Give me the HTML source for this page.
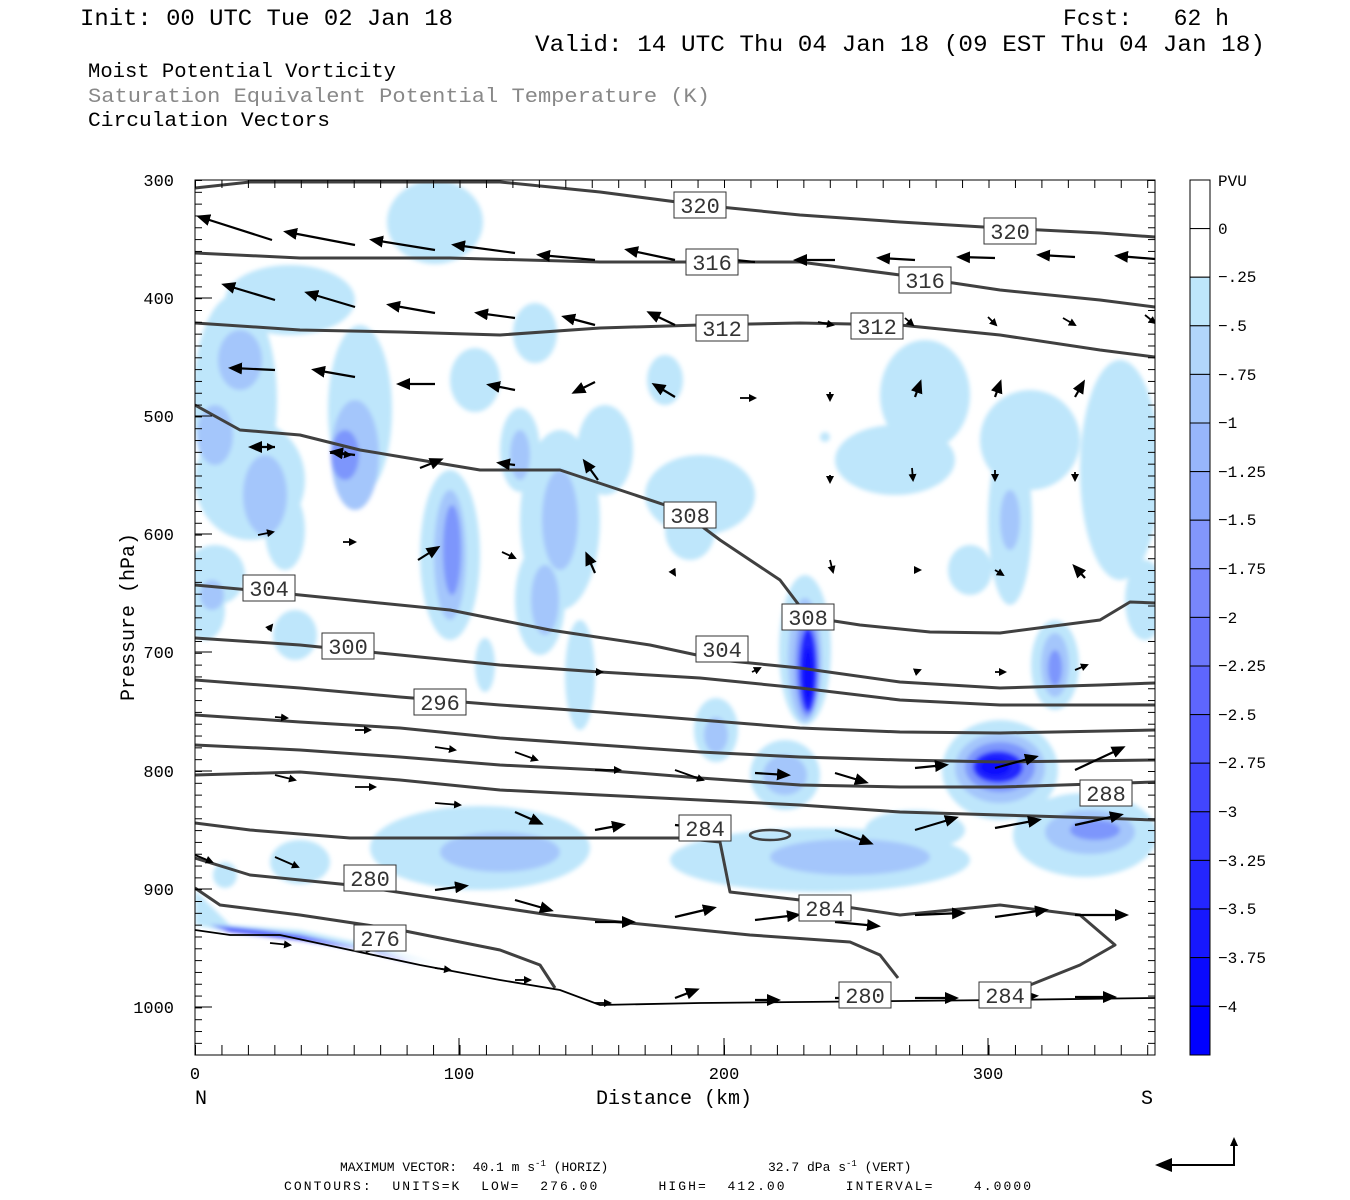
<!DOCTYPE html>
<html><head><meta charset="utf-8"><style>
html,body{margin:0;padding:0;background:#fff;}
svg{display:block}
text{font-family:"Liberation Mono",monospace;fill:#000;white-space:pre}
</style></head><body>
<svg width="1350" height="1200" viewBox="0 0 1350 1200" xmlns="http://www.w3.org/2000/svg" xml:space="preserve">
<defs>
<pattern id="tl" x="195" y="180" width="10" height="11.82" patternUnits="userSpaceOnUse"><line x1="0" y1="0.5" x2="7" y2="0.5" stroke="#000" stroke-width="1"/></pattern>
<pattern id="tr" x="1147" y="180" width="10" height="11.82" patternUnits="userSpaceOnUse"><line x1="1" y1="0.5" x2="8" y2="0.5" stroke="#000" stroke-width="1"/></pattern>
<pattern id="tb" x="195" y="1045" width="26.45" height="12" patternUnits="userSpaceOnUse"><line x1="0.5" y1="0" x2="0.5" y2="10" stroke="#000" stroke-width="1"/></pattern>
<pattern id="tt" x="195" y="180" width="26.45" height="12" patternUnits="userSpaceOnUse"><line x1="0.5" y1="0" x2="0.5" y2="8" stroke="#000" stroke-width="1"/></pattern>
<marker id="ah" markerWidth="8" markerHeight="8" refX="6" refY="4" orient="auto" markerUnits="userSpaceOnUse" viewBox="0 0 8 8"><path d="M0,0 L8,4 L0,8 z" fill="#000"/></marker>
<marker id="ab" markerWidth="14" markerHeight="12" refX="10" refY="6" orient="auto" markerUnits="userSpaceOnUse" viewBox="0 0 14 12"><path d="M0,0 L14,6 L0,12 z" fill="#000"/></marker>
<filter id="bl"><feGaussianBlur stdDeviation="2"/></filter>
<clipPath id="pc"><rect x="195" y="180" width="960" height="875"/></clipPath>
</defs>

<!-- Titles -->
<text x="80" y="25" font-size="23" textLength="373" lengthAdjust="spacingAndGlyphs">Init: 00 UTC Tue 02 Jan 18</text>
<text x="1063" y="25" font-size="23" textLength="166" lengthAdjust="spacingAndGlyphs">Fcst:   62 h</text>
<text x="535" y="51" font-size="23" textLength="730" lengthAdjust="spacingAndGlyphs">Valid: 14 UTC Thu 04 Jan 18 (09 EST Thu 04 Jan 18)</text>
<text x="88" y="77" font-size="20.5" textLength="308" lengthAdjust="spacingAndGlyphs">Moist Potential Vorticity</text>
<text x="88" y="102" font-size="20.5" style="fill:#888" textLength="622" lengthAdjust="spacingAndGlyphs">Saturation Equivalent Potential Temperature (K)</text>
<text x="88" y="126" font-size="20.5" textLength="242" lengthAdjust="spacingAndGlyphs">Circulation Vectors</text>

<!-- Shading -->
<g clip-path="url(#pc)" filter="url(#bl)">
<g fill="#bee6fb">
<ellipse cx="435" cy="222" rx="48" ry="42"/>
<ellipse cx="290" cy="300" rx="65" ry="35"/>
<ellipse cx="535" cy="333" rx="22" ry="30"/>
<ellipse cx="235" cy="400" rx="42" ry="105"/>
<ellipse cx="360" cy="410" rx="32" ry="85"/>
<ellipse cx="250" cy="480" rx="55" ry="60"/>
<ellipse cx="285" cy="530" rx="20" ry="40"/>
<ellipse cx="215" cy="575" rx="30" ry="30"/>
<ellipse cx="475" cy="380" rx="25" ry="32"/>
<ellipse cx="520" cy="450" rx="20" ry="42"/>
<ellipse cx="450" cy="555" rx="30" ry="85"/>
<ellipse cx="560" cy="520" rx="40" ry="90"/>
<ellipse cx="540" cy="600" rx="25" ry="55"/>
<ellipse cx="605" cy="450" rx="28" ry="45"/>
<ellipse cx="700" cy="495" rx="55" ry="40"/>
<ellipse cx="690" cy="530" rx="25" ry="30"/>
<ellipse cx="665" cy="380" rx="18" ry="25"/>
<ellipse cx="580" cy="675" rx="15" ry="55"/>
<ellipse cx="485" cy="665" rx="10" ry="27"/>
<ellipse cx="295" cy="635" rx="22" ry="25"/>
<ellipse cx="805" cy="650" rx="26" ry="75"/>
<ellipse cx="925" cy="395" rx="45" ry="55"/>
<ellipse cx="895" cy="460" rx="60" ry="35"/>
<ellipse cx="1030" cy="440" rx="50" ry="50"/>
<ellipse cx="1010" cy="520" rx="22" ry="85"/>
<ellipse cx="1120" cy="470" rx="40" ry="110"/>
<ellipse cx="1145" cy="600" rx="20" ry="40"/>
<ellipse cx="970" cy="570" rx="22" ry="25"/>
<ellipse cx="1055" cy="665" rx="24" ry="45"/>
<ellipse cx="716" cy="730" rx="22" ry="32"/>
<ellipse cx="785" cy="775" rx="35" ry="35"/>
<ellipse cx="1000" cy="770" rx="58" ry="50"/>
<ellipse cx="1085" cy="835" rx="72" ry="42"/>
<ellipse cx="480" cy="848" rx="110" ry="42"/>
<ellipse cx="300" cy="862" rx="30" ry="22"/>
<ellipse cx="225" cy="875" rx="12" ry="13"/>
<ellipse cx="820" cy="860" rx="150" ry="32"/>
<ellipse cx="915" cy="830" rx="50" ry="20"/>
<ellipse cx="205" cy="610" rx="20" ry="30"/>
<ellipse cx="825" cy="437" rx="5" ry="5"/>
<path d="M195,890 L230,925 L300,930 L370,945 L440,965 L400,955 L300,935 L220,930 L195,925z"/>
</g>
<g fill="#a4c6fb">
<ellipse cx="240" cy="360" rx="22" ry="30"/>
<ellipse cx="215" cy="435" rx="18" ry="30"/>
<ellipse cx="265" cy="495" rx="22" ry="40"/>
<ellipse cx="355" cy="455" rx="24" ry="55"/>
<ellipse cx="520" cy="455" rx="10" ry="25"/>
<ellipse cx="450" cy="555" rx="16" ry="65"/>
<ellipse cx="560" cy="520" rx="18" ry="50"/>
<ellipse cx="545" cy="600" rx="14" ry="35"/>
<ellipse cx="805" cy="660" rx="17" ry="62"/>
<ellipse cx="1010" cy="520" rx="10" ry="30"/>
<ellipse cx="1055" cy="665" rx="14" ry="32"/>
<ellipse cx="716" cy="735" rx="12" ry="18"/>
<ellipse cx="785" cy="775" rx="22" ry="20"/>
<ellipse cx="1000" cy="768" rx="45" ry="35"/>
<ellipse cx="1090" cy="832" rx="45" ry="22"/>
<ellipse cx="500" cy="852" rx="60" ry="20"/>
<ellipse cx="850" cy="857" rx="80" ry="18"/>
<ellipse cx="212" cy="595" rx="12" ry="15"/>
</g>
<g fill="#7d96fc">
<ellipse cx="345" cy="455" rx="14" ry="25"/>
<ellipse cx="452" cy="550" rx="9" ry="45"/>
<ellipse cx="807" cy="665" rx="12" ry="52"/>
<ellipse cx="1000" cy="767" rx="35" ry="25"/>
<ellipse cx="1095" cy="830" rx="25" ry="10"/>
<ellipse cx="1055" cy="668" rx="7" ry="18"/>
</g>
<g fill="#2226fe">
<ellipse cx="808" cy="670" rx="9" ry="42"/>
<ellipse cx="998" cy="767" rx="25" ry="16"/>
</g>
<g fill="#0808fe">
<ellipse cx="808" cy="675" rx="5" ry="28"/>
<ellipse cx="995" cy="767" rx="15" ry="9"/>
</g>
<path d="M210,925 L260,930 L300,935 L360,948 L420,965 L380,952 L300,940 L230,932z" fill="#3c46fd"/>
</g>

<!-- contours -->
<g fill="none" stroke="#404040" stroke-width="3" stroke-linejoin="round" clip-path="url(#pc)">
<polyline points="195,188 250,182 350,182 500,182 600,192 700,205 800,215 900,222 1000,228 1100,233 1155,237"/>
<polyline points="195,253 300,258 450,258 600,262 700,262 800,262 900,275 1000,290 1100,300 1155,307"/>
<polyline points="195,323 300,330 400,332 500,335 600,328 700,325 800,323 900,325 1000,335 1100,350 1155,357"/>
<polyline points="195,405 240,430 300,435 360,450 420,460 480,470 560,470 620,490 680,510 720,540 780,580 808,617 860,625 930,632 1000,633 1100,620 1130,602 1155,603"/>
<polyline points="195,585 250,590 350,600 450,610 550,630 650,645 720,660 800,668 900,682 1000,688 1100,685 1155,683"/>
<polyline points="195,638 300,645 400,655 500,665 600,672 700,678 800,688 900,700 1000,705 1155,705"/>
<polyline points="195,680 300,688 400,697 500,705 600,712 700,720 800,728 900,732 1000,733 1155,730"/>
<polyline points="195,715 300,722 400,728 500,738 600,745 700,752 800,757 900,760 1000,762 1155,760"/>
<polyline points="195,745 300,750 400,757 500,765 600,770 700,778 800,785 900,787 1000,787 1155,782"/>
<polyline points="195,775 300,772 400,780 500,790 600,795 700,800 800,805 900,812 1000,815 1100,818 1155,820"/>
<polyline points="195,823 250,830 350,838 450,838 550,838 680,838 720,842 730,892 800,900 900,915 1000,905 1080,915 1115,945 1080,965 1030,985 1000,997"/>
<polyline points="195,858 250,875 350,885 450,900 550,915 650,925 750,935 850,942 880,955 898,978"/>
<polyline points="195,888 220,905 300,915 400,930 500,950 540,965 555,988"/>
<ellipse cx="770" cy="835" rx="20" ry="5" stroke-width="2.5"/>
</g>
<polyline clip-path="url(#pc)" fill="none" stroke="#000" stroke-width="1.8" points="195,930 230,935 280,935 350,950 420,965 500,980 560,990 600,1005 700,1003 800,1002 1000,1000 1155,998"/>

<!-- vectors -->
<g stroke="#000" stroke-width="2.2" marker-end="url(#ab)" clip-path="url(#pc)">
<line x1="272" y1="240" x2="200" y2="217"/><line x1="355" y1="245" x2="287" y2="232"/><line x1="435" y1="250" x2="373" y2="240"/><line x1="515" y1="253" x2="455" y2="245"/><line x1="595" y1="260" x2="540" y2="255"/><line x1="675" y1="260" x2="628" y2="250"/><line x1="755" y1="262" x2="715" y2="258"/><line x1="835" y1="260" x2="797" y2="260"/><line x1="915" y1="260" x2="880" y2="258"/><line x1="995" y1="258" x2="960" y2="257"/><line x1="1075" y1="257" x2="1040" y2="255"/><line x1="1155" y1="259" x2="1118" y2="256"/>
<line x1="275" y1="300" x2="225" y2="285"/><line x1="355" y1="307" x2="308" y2="293"/><line x1="435" y1="313" x2="390" y2="305"/><line x1="515" y1="318" x2="478" y2="313"/><line x1="595" y1="325" x2="565" y2="317"/><line x1="675" y1="325" x2="650" y2="313"/>
<line x1="275" y1="370" x2="232" y2="368"/><line x1="355" y1="377" x2="315" y2="370"/><line x1="435" y1="384" x2="400" y2="384"/><line x1="515" y1="390" x2="490" y2="385"/><line x1="595" y1="382" x2="575" y2="392"/><line x1="675" y1="397" x2="655" y2="385"/>
<line x1="275" y1="447" x2="252" y2="447"/><line x1="355" y1="455" x2="333" y2="452"/><line x1="420" y1="468" x2="440" y2="460"/><line x1="515" y1="465" x2="500" y2="463"/><line x1="598" y1="480" x2="585" y2="462"/>
<line x1="915" y1="397" x2="920" y2="383"/><line x1="995" y1="397" x2="1000" y2="383"/><line x1="1075" y1="397" x2="1083" y2="383"/>
<line x1="418" y1="560" x2="437" y2="548"/><line x1="595" y1="573" x2="587" y2="555"/><line x1="1085" y1="578" x2="1075" y2="567"/>
<line x1="755" y1="773" x2="787" y2="775"/><line x1="835" y1="773" x2="865" y2="782"/><line x1="915" y1="768" x2="945" y2="765"/><line x1="995" y1="768" x2="1035" y2="757"/><line x1="1075" y1="770" x2="1122" y2="748"/>
<line x1="595" y1="830" x2="622" y2="825"/><line x1="675" y1="825" x2="705" y2="828"/><line x1="515" y1="812" x2="540" y2="823"/><line x1="835" y1="830" x2="870" y2="843"/><line x1="915" y1="830" x2="955" y2="818"/><line x1="995" y1="828" x2="1038" y2="820"/><line x1="1075" y1="825" x2="1120" y2="815"/>
<line x1="435" y1="890" x2="465" y2="886"/><line x1="515" y1="900" x2="550" y2="910"/><line x1="595" y1="922" x2="632" y2="922"/><line x1="675" y1="917" x2="713" y2="908"/><line x1="755" y1="920" x2="797" y2="915"/><line x1="835" y1="922" x2="877" y2="926"/><line x1="915" y1="915" x2="962" y2="913"/><line x1="995" y1="917" x2="1045" y2="910"/><line x1="1075" y1="915" x2="1125" y2="915"/>
<line x1="675" y1="998" x2="696" y2="990"/><line x1="755" y1="1000" x2="777" y2="1000"/><line x1="835" y1="998" x2="865" y2="998"/><line x1="915" y1="998" x2="955" y2="998"/><line x1="995" y1="998" x2="1035" y2="996"/><line x1="1075" y1="997" x2="1113" y2="997"/>
</g>
<g stroke="#000" stroke-width="1.8" marker-end="url(#ah)" clip-path="url(#pc)">
<line x1="905" y1="318" x2="913" y2="325"/><line x1="988" y1="317" x2="996" y2="325"/><line x1="1063" y1="318" x2="1075" y2="325"/><line x1="1145" y1="315" x2="1155" y2="323"/><line x1="818" y1="322" x2="833" y2="325"/>
<line x1="740" y1="398" x2="755" y2="398"/><line x1="830" y1="392" x2="830" y2="400"/><line x1="253" y1="447" x2="273" y2="447"/>
<line x1="330" y1="453" x2="350" y2="455"/><line x1="830" y1="475" x2="830" y2="482"/><line x1="912" y1="468" x2="913" y2="480"/><line x1="995" y1="470" x2="995" y2="480"/><line x1="1075" y1="472" x2="1075" y2="480"/>
<line x1="258" y1="535" x2="273" y2="532"/><line x1="343" y1="542" x2="355" y2="542"/><line x1="502" y1="552" x2="515" y2="558"/><line x1="672" y1="570" x2="675" y2="575"/><line x1="830" y1="560" x2="833" y2="572"/><line x1="915" y1="570" x2="920" y2="570"/><line x1="995" y1="570" x2="1003" y2="575"/>
<line x1="268" y1="630" x2="272" y2="625"/><line x1="595" y1="672" x2="602" y2="672"/><line x1="752" y1="672" x2="760" y2="668"/><line x1="915" y1="672" x2="920" y2="670"/><line x1="995" y1="672" x2="1005" y2="672"/><line x1="1075" y1="670" x2="1087" y2="665"/>
<line x1="275" y1="717" x2="287" y2="718"/><line x1="355" y1="730" x2="370" y2="730"/><line x1="435" y1="747" x2="455" y2="750"/><line x1="515" y1="752" x2="537" y2="760"/><line x1="595" y1="770" x2="620" y2="770"/><line x1="675" y1="770" x2="703" y2="780"/>
<line x1="275" y1="775" x2="295" y2="780"/><line x1="355" y1="787" x2="375" y2="787"/><line x1="435" y1="803" x2="460" y2="805"/>
<line x1="195" y1="855" x2="212" y2="862"/><line x1="275" y1="857" x2="298" y2="867"/><line x1="360" y1="878" x2="380" y2="878"/>
<line x1="270" y1="943" x2="290" y2="945"/><line x1="355" y1="948" x2="372" y2="950"/><line x1="435" y1="968" x2="450" y2="970"/><line x1="515" y1="980" x2="530" y2="980"/><line x1="595" y1="1003" x2="610" y2="1003"/>
</g>

<!-- labels -->
<g font-size="22" text-anchor="middle" style="fill:#333">
<g fill="#fff" stroke="#333" stroke-width="1">
<rect x="674" y="192" width="52" height="26"/><rect x="984" y="218" width="52" height="26"/>
<rect x="686" y="249" width="52" height="26"/><rect x="899" y="267" width="52" height="26"/>
<rect x="696" y="315" width="52" height="26"/><rect x="851" y="313" width="52" height="26"/>
<rect x="664" y="502" width="52" height="26"/><rect x="782" y="604" width="52" height="26"/>
<rect x="243" y="575" width="52" height="26"/><rect x="322" y="633" width="52" height="26"/>
<rect x="696" y="636" width="52" height="26"/><rect x="414" y="689" width="52" height="26"/>
<rect x="1080" y="780" width="52" height="26"/><rect x="679" y="815" width="52" height="26"/>
<rect x="344" y="865" width="52" height="26"/><rect x="799" y="895" width="52" height="26"/>
<rect x="354" y="925" width="52" height="26"/><rect x="839" y="982" width="52" height="26"/>
<rect x="979" y="982" width="52" height="26"/>
</g>
<text x="700" y="213" style="fill:#333">320</text><text x="1010" y="239" style="fill:#333">320</text>
<text x="712" y="270" style="fill:#333">316</text><text x="925" y="288" style="fill:#333">316</text>
<text x="722" y="336" style="fill:#333">312</text><text x="877" y="334" style="fill:#333">312</text>
<text x="690" y="523" style="fill:#333">308</text><text x="808" y="625" style="fill:#333">308</text>
<text x="269" y="596" style="fill:#333">304</text><text x="348" y="654" style="fill:#333">300</text>
<text x="722" y="657" style="fill:#333">304</text><text x="440" y="710" style="fill:#333">296</text>
<text x="1106" y="801" style="fill:#333">288</text><text x="705" y="836" style="fill:#333">284</text>
<text x="370" y="886" style="fill:#333">280</text><text x="825" y="916" style="fill:#333">284</text>
<text x="380" y="946" style="fill:#333">276</text><text x="865" y="1003" style="fill:#333">280</text>
<text x="1005" y="1003" style="fill:#333">284</text>
</g>

<!-- frame & ticks -->
<rect x="195" y="180" width="960" height="875" fill="none" stroke="#000" stroke-width="1"/>
<rect x="195" y="180" width="8" height="875" fill="url(#tl)"/>
<rect x="1147" y="180" width="8" height="875" fill="url(#tr)"/>
<rect x="195" y="1045" width="960" height="10" fill="url(#tb)"/>
<rect x="195" y="180" width="960" height="8" fill="url(#tt)"/>
<g stroke="#000" stroke-width="1">
<line x1="195" y1="298" x2="212" y2="298"/><line x1="195" y1="416" x2="212" y2="416"/><line x1="195" y1="534" x2="212" y2="534"/><line x1="195" y1="652" x2="212" y2="652"/><line x1="195" y1="771" x2="212" y2="771"/><line x1="195" y1="889" x2="212" y2="889"/><line x1="195" y1="1007" x2="212" y2="1007"/>
<line x1="459" y1="1038" x2="459" y2="1055"/><line x1="724" y1="1038" x2="724" y2="1055"/><line x1="988" y1="1038" x2="988" y2="1055"/>
</g>
<g font-size="17" text-anchor="end">
<text x="174" y="186">300</text><text x="174" y="304">400</text><text x="174" y="422">500</text><text x="174" y="540">600</text><text x="174" y="658">700</text><text x="174" y="777">800</text><text x="174" y="895">900</text><text x="174" y="1013">1000</text>
</g>
<g font-size="17" text-anchor="middle">
<text x="195" y="1079">0</text><text x="459" y="1079">100</text><text x="724" y="1079">200</text><text x="988" y="1079">300</text>
</g>
<text x="195" y="1104" font-size="20">N</text><text x="1141" y="1104" font-size="20">S</text>
<text x="674" y="1104" font-size="20" text-anchor="middle">Distance (km)</text>
<text transform="translate(134,617) rotate(-90)" font-size="20" text-anchor="middle">Pressure (hPa)</text>

<!-- colorbar -->
<g stroke="#000" stroke-width="1">
<rect x="1190" y="180" width="20" height="48.6" fill="#fff"/>
<rect x="1190" y="228.6" width="20" height="48.6" fill="#fff"/>
<rect x="1190" y="277.2" width="20" height="48.6" fill="#bee6fb"/>
<rect x="1190" y="325.8" width="20" height="48.6" fill="#b1d6fb"/>
<rect x="1190" y="374.4" width="20" height="48.6" fill="#a4c6fb"/>
<rect x="1190" y="423" width="20" height="48.6" fill="#97b6fc"/>
<rect x="1190" y="471.6" width="20" height="48.6" fill="#8aa6fc"/>
<rect x="1190" y="520.2" width="20" height="48.6" fill="#8296fc"/>
<rect x="1190" y="568.8" width="20" height="48.6" fill="#7886fc"/>
<rect x="1190" y="617.4" width="20" height="48.6" fill="#6b76fc"/>
<rect x="1190" y="666" width="20" height="48.6" fill="#5e66fd"/>
<rect x="1190" y="714.6" width="20" height="48.6" fill="#4f56fd"/>
<rect x="1190" y="763.2" width="20" height="48.6" fill="#4246fd"/>
<rect x="1190" y="811.8" width="20" height="48.6" fill="#3336fd"/>
<rect x="1190" y="860.4" width="20" height="48.6" fill="#2426fe"/>
<rect x="1190" y="909" width="20" height="48.6" fill="#1718fe"/>
<rect x="1190" y="957.6" width="20" height="48.6" fill="#0a0afe"/>
<rect x="1190" y="1006.2" width="20" height="48.8" fill="#0000ff"/>
</g>
<g font-size="16">
<text x="1218" y="186">PVU</text>
<text x="1218" y="234">0</text><text x="1218" y="282">−.25</text><text x="1218" y="331">−.5</text><text x="1218" y="380">−.75</text><text x="1218" y="428">−1</text><text x="1218" y="477">−1.25</text><text x="1218" y="525">−1.5</text><text x="1218" y="574">−1.75</text><text x="1218" y="623">−2</text><text x="1218" y="671">−2.25</text><text x="1218" y="720">−2.5</text><text x="1218" y="768">−2.75</text><text x="1218" y="817">−3</text><text x="1218" y="866">−3.25</text><text x="1218" y="914">−3.5</text><text x="1218" y="963">−3.75</text><text x="1218" y="1012">−4</text>
</g>

<!-- footer -->
<text x="340" y="1171" font-size="13">MAXIMUM VECTOR:  40.1 m s<tspan dy="-5" font-size="9">-1</tspan><tspan dy="5"> (HORIZ)</tspan></text>
<text x="768" y="1171" font-size="13">32.7 dPa s<tspan dy="-5" font-size="9">-1</tspan><tspan dy="5"> (VERT)</tspan></text>
<text x="284" y="1190" font-size="13" textLength="747" lengthAdjust="spacing">CONTOURS:  UNITS=K  LOW=  276.00      HIGH=  412.00      INTERVAL=    4.0000</text>
<g stroke="#000" stroke-width="2" fill="none">
<polyline points="1160,1165 1234,1165 1234,1142"/>
</g>
<path d="M1155,1165 L1172,1158 L1172,1172z" fill="#000"/>
<path d="M1234,1137 L1230,1146 L1238,1146z" fill="#000"/>
</svg>
</body></html>
